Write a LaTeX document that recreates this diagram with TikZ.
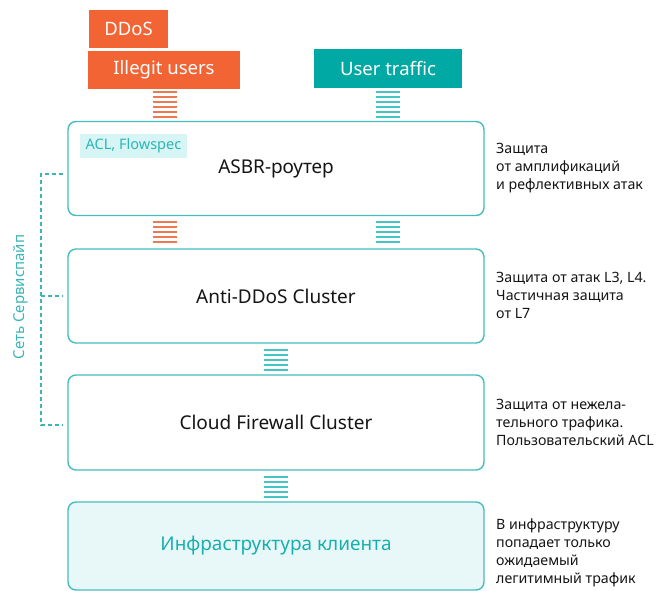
\documentclass[tikz,border=0pt]{standalone}
\usepackage{fontspec}
\setmainfont{Noto Sans}
\definecolor{brandorange}{HTML}{F26433}
\definecolor{brandteal}{HTML}{00A9A4}
\definecolor{boxline}{HTML}{45BDBD}
\definecolor{infrafill}{HTML}{E8F8F8}
\definecolor{infratext}{HTML}{1AAFAF}
\definecolor{aclfill}{HTML}{D8F5F5}
\definecolor{aclteal}{HTML}{2BB5B5}
\definecolor{bracketteal}{HTML}{3DB5B5}
\definecolor{stackorange}{HTML}{EB7A52}
\definecolor{stackteal}{HTML}{45C6C6}
\definecolor{ink}{HTML}{151515}

\tikzset{
  tag/.style={fill=#1, text=white, inner sep=0pt, font=\fontsize{18.5}{20}\selectfont},
  layer/.style={draw=boxline, line width=1.4pt, rounded corners=8pt, fill=white,
    minimum width=416pt, inner sep=0pt, font=\fontsize{19}{22}\selectfont, text=ink},
  note/.style={anchor=west, align=left, inner sep=0pt, text=ink,
    font=\fontsize{14.2}{18}\selectfont},
  stackline/.style={line width=1.6pt, draw=#1},
  bracket/.style={draw=bracketteal, line width=1.2pt, dash pattern=on 4pt off 3pt},
}

% a stack of short horizontal bars below a coordinate
\newcommand\barstack[3]{% coordinate, number of bars, colour
  \foreach \k in {1,...,#2}
    \draw[stackline=#3] ([xshift=-12pt,yshift={-(\k-1)*5pt}]#1) -- ++(24pt,0);
}

\begin{document}
\begin{tikzpicture}[x=1pt,y=-1pt]
  \useasboundingbox (0,0) rectangle (658,591);

  % traffic sources
  \node[tag=brandorange, minimum width=79pt, minimum height=38pt] (ddos) at (128.5,29) {DDoS};
  \node[tag=brandorange, minimum width=152pt, minimum height=38pt] (illegit) at (164,70) {Illegit users};
  \node[tag=brandteal, minimum width=148pt, minimum height=39pt] (user) at (388,68.5) {User traffic};

  % protection layers
  \node[layer, minimum height=94pt] (asbr) at (276,168.5) {ASBR-роутер};
  \node[layer, minimum height=94pt] (anti) at (276,296) {Anti-DDoS Cluster};
  \node[layer, minimum height=95pt] (cloud) at (276,422.5) {Cloud Firewall Cluster};
  \node[layer, fill=infrafill, text=infratext, minimum height=88pt] (infra) at (276,546) {Инфраструктура клиента};

  % ACL label inside the router box
  \node[fill=aclfill, text=aclteal, inner sep=0pt, minimum width=107pt, minimum height=24pt,
        font=\fontsize{14.5}{16}\selectfont] (acl) at (133.5,146) {ACL, Flowspec};

  % traffic bar stacks between the boxes
  \coordinate (s1) at (164.5,92);  \barstack{s1}{6}{stackorange}
  \coordinate (s2) at (388,92);    \barstack{s2}{6}{stackteal}
  \coordinate (s3) at (164.5,222); \barstack{s3}{5}{stackorange}
  \coordinate (s4) at (388,222);   \barstack{s4}{5}{stackteal}
  \coordinate (s5) at (276,350);   \barstack{s5}{5}{stackteal}
  \coordinate (s6) at (276,477);   \barstack{s6}{5}{stackteal}

  % Servicepipe network bracket
  \coordinate (b1) at (63,174);
  \coordinate (b2) at (63,296);
  \coordinate (b3) at (63,425);
  \draw[bracket] (b1) -- (41,174) -- (41,425) -- (b3);
  \draw[bracket] (41,296) -- (b2);
  \node[rotate=90, text=bracketteal, inner sep=0pt, font=\fontsize{15}{17}\selectfont] (net) at (21,297) {Сеть Сервиспайп};

  % descriptions
  \node[note] (n1) at (496,168) {Защита\\от амплификаций\\и рефлективных атак};
  \node[note] (n2) at (496,295) {Защита от атак L3, L4.\\Частичная защита\\от L7};
  \node[note] (n3) at (496,422) {Защита от нежела-\\тельного трафика.\\Пользовательский ACL};
  \node[note] (n4) at (496,553) {В инфраструктуру\\попадает только\\ожидаемый\\легитимный трафик};
\end{tikzpicture}
\end{document}
